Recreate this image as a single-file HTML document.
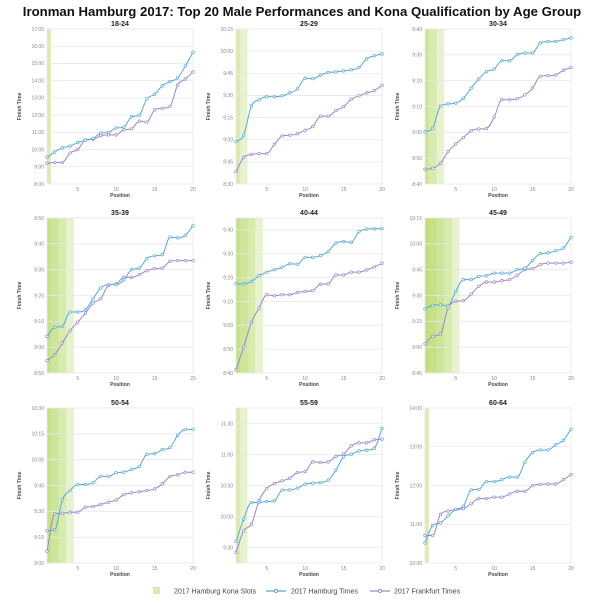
<!DOCTYPE html>
<html><head><meta charset="utf-8">
<style>
body{margin:0;background:#fff;width:600px;height:600px;overflow:hidden}
svg{font-family:"Liberation Sans",sans-serif}
</style></head>
<body>
<svg id="chart" width="600" height="600" viewBox="0 0 600 600">
<text x="302" y="16" text-anchor="middle" font-size="13.2" font-weight="bold" fill="#111">Ironman Hamburg 2017: Top 20 Male Performances and Kona Qualification by Age Group</text>
<g id="panels"></g>
<g>
<rect x="153" y="587" width="7" height="7" fill="#d9ebb0"/>
<text x="174" y="593.5" font-size="7" fill="#444">2017 Hamburg Kona Slots</text>
<line x1="266" y1="591" x2="286" y2="591" stroke="#5aa7d8" stroke-width="1.2"/>
<circle cx="276" cy="591" r="1.6" fill="#fff" stroke="#5aa7d8"/>
<text x="291" y="593.5" font-size="7" fill="#444">2017 Hamburg Times</text>
<line x1="370" y1="591" x2="390" y2="591" stroke="#9a86cf" stroke-width="1.2"/>
<circle cx="380" cy="591" r="1.6" fill="#fff" stroke="#9a86cf"/>
<text x="394" y="593.5" font-size="7" fill="#444">2017 Frankfurt Times</text>
</g>
</svg>
<script>
// finish times in minutes
const groups = ["18-24","25-29","30-34","35-39","40-44","45-49","50-54","55-59","60-64"];
const konaSlots = [1,2,3,4,4,5,4,2,1];
const yMin = [480,510,520,530,520,525,540,555,600];
const yMax = [1020,615,580,590,585,615,630,705,840];
const yTickStart = [480,510,520,530,520,525,540,570,600];
const yTickEnd = [1020,615,580,590,580,615,630,690,840];
const yStep = [60,15,10,10,10,15,15,30,60];
const positions = [1,2,3,4,5,6,7,8,9,10,11,12,13,14,15,16,17,18,19,20];
const xTicks = [5,10,15,20];
const hamburg = [
[573,591,606,612,624,633,639,657,660,675,678,714,720,777,792,822,837,849,891,939],
[538.7,543.2,562.9,567,569.2,569.2,569.7,571.7,574.4,581.6,581.4,583.7,585.5,585.9,586.6,587.3,588.9,594.8,596.8,598.1],
[540.2,541.6,550.1,551,551.3,553.2,557.1,560.7,563.5,564.5,567.7,567.7,570.1,570.7,570.7,574.6,575.1,575.2,575.9,576.5],
[544.2,547.7,548.1,553.6,553.6,554.5,558.8,562.9,564.2,564.2,566,570,570.6,574.3,575.4,575.8,582.6,582.3,583.3,587],
[557.4,557.4,558.4,560.8,562.3,563.3,564.3,565.8,565.6,568.5,568.5,569.3,571,574.5,575.1,574.8,579.3,580.3,580.5,580.6],
[562.3,564.2,564.6,564,572.4,579.2,579.2,581.1,581.5,583,583,583,585,585.9,590.4,594.3,594.7,596,597.6,603.7],
[558.8,559.2,576.7,582.1,585.6,585.6,586.6,590.3,590.3,592.4,592.8,594.3,596.1,603.1,603.5,605.8,607,614.1,617.6,617.6],
[575.8,597.4,613.5,613.5,614.5,615.2,625.5,625.8,627.4,631.3,632.3,632.9,635.2,644.8,657.7,660.3,663.5,664.2,666.1,685.2],
[631,658,662,673,683,688,713,714,726,726,729,733,733,756,771,775,775,783,790,807]
];
const frankfurt = [
[552,555,555,588,600,633,636,648,651,651,669,672,699,696,738,744,750,825,846,870],
[518.4,528,530,530.6,530.6,536.9,542.5,543,544,546.4,548.9,556,555.9,559.7,562.4,567.4,569.7,571.7,573.3,576.9],
[525.7,526.1,528,532.5,535.5,538,540.6,541.3,541.5,545.9,552.6,552.6,553,554.5,557.1,561.7,561.9,562.2,564,565.1],
[534.8,537.1,541.6,546.4,549.7,553.2,557.1,558.8,563.9,564.5,567,567,568.1,569.6,570.4,570.6,573.2,573.5,573.5,573.5],
[521.4,530.9,541.2,547.2,552.8,552.4,552.8,552.8,553.8,554.2,554.6,557.2,557.4,561.1,561.1,562.3,562.3,563.2,564.5,566],
[542,546.3,547.6,562.7,566.6,567,570.8,575.3,577.8,577.8,578.6,579.2,581.7,585,585.6,587.9,588.8,588.8,588.8,589.4],
[546.8,568.5,568.9,569.5,569.5,572.4,572.8,574,575.3,576.6,579.7,580.7,581.4,582.1,583,585.9,590.2,591.2,592.7,592.7],
[565.2,586.1,592.6,615.2,627.1,631.9,634.5,637.1,642.6,643.5,652.9,652.3,652.9,658.1,660.3,668.4,671.3,671.3,674.2,674.8],
[642.6,642.6,675,680.4,682.8,684,691.8,699.6,699.6,702,702,706.8,711,711,720,721.8,722.4,722.4,729,736.8]
];

const NS="http://www.w3.org/2000/svg";
const colX=[47,236,425], rowY=[29,218,408], PW=146, PH=155;
function mk(tag,attrs,parent){const e=document.createElementNS(NS,tag);for(const k in attrs)e.setAttribute(k,attrs[k]);parent.appendChild(e);return e;}
function fmt(m){const h=Math.floor(m/60),mm=Math.round(m-h*60);return h+":"+(mm<10?"0":"")+mm;}
function monotonePath(pts){
  const n=pts.length;if(n<2)return "";
  const d=[],m=[];
  for(let i=0;i<n-1;i++)d.push((pts[i+1][1]-pts[i][1])/(pts[i+1][0]-pts[i][0]));
  m[0]=d[0];m[n-1]=d[n-2];
  for(let i=1;i<n-1;i++){m[i]=(d[i-1]*d[i]<=0)?0:(d[i-1]+d[i])/2;}
  for(let i=0;i<n-1;i++){if(d[i]===0){m[i]=0;m[i+1]=0;continue;}const a=m[i]/d[i],b=m[i+1]/d[i],s=a*a+b*b;if(s>9){const t=3/Math.sqrt(s);m[i]=t*a*d[i];m[i+1]=t*b*d[i];}}
  let p="M"+pts[0][0].toFixed(2)+","+pts[0][1].toFixed(2);
  for(let i=0;i<n-1;i++){const h=(pts[i+1][0]-pts[i][0])/3;
    p+="C"+(pts[i][0]+h).toFixed(2)+","+(pts[i][1]+m[i]*h).toFixed(2)+" "+(pts[i+1][0]-h).toFixed(2)+","+(pts[i+1][1]-m[i+1]*h).toFixed(2)+" "+pts[i+1][0].toFixed(2)+","+pts[i+1][1].toFixed(2);}
  return p;
}
const root=document.getElementById('panels');
groups.forEach((g,gi)=>{
  const x0=colX[gi%3], y0=rowY[Math.floor(gi/3)];
  const xs=v=>x0+(v-1)/19*PW;
  const ys=v=>y0+PH-(v-yMin[gi])/(yMax[gi]-yMin[gi])*PH;
  const pg=mk('g',{},root);
  
  
  const t=mk('text',{x:x0+PW/2,y:y0-3,'text-anchor':'middle','font-size':'7','font-weight':'bold',fill:'#222'},pg);
  t.textContent=g;
  
  
  for(let k=1;k<=konaSlots[gi];k++){
    const r=mk('rect',{x:xs(1),y:y0,width:xs(Math.min(k+0.5,20))-xs(1),height:PH,fill:'#b5d96a','fill-opacity':k==1&&konaSlots[gi]==1?0.5:0.32},pg);
    
    
  }
  const fr=mk('rect',{x:x0,y:y0,width:PW,height:PH,fill:'none',stroke:'#e8e8e8','stroke-width':0.8},pg);
  
  
  for(let v=yTickStart[gi];v<=yTickEnd[gi]+0.01;v+=yStep[gi]){
    const y=ys(v);
    const gl=mk('line',{x1:x0,x2:x0+PW,y1:y,y2:y,stroke:'#e8e8e8','stroke-width':0.8},pg);
    
    
    const tl=mk('text',{x:x0-3,y:y+1.8,'text-anchor':'end','font-size':'5','fill':'#888'},pg);
    tl.textContent=fmt(v);
    
    
  }
  xTicks.forEach(v=>{
    const tl=mk('text',{x:xs(v),y:y0+PH+7,'text-anchor':'middle','font-size':'5','fill':'#888'},pg);
    tl.textContent=v;
    
    
  });
  const xt=mk('text',{x:x0+PW/2,y:y0+PH+13,'text-anchor':'middle','font-size':'5','font-weight':'bold',fill:'#444'},pg);
  xt.textContent='Position';
  
  
  const yt=mk('text',{x:0,y:0,'text-anchor':'middle','font-size':'5','font-weight':'bold',fill:'#444',transform:'translate('+(x0-26)+','+(y0+PH/2)+') rotate(-90)'},pg);
  yt.textContent='Finish Time';
  
  
  [[frankfurt[gi],'#9a86cf','frankfurt'],[hamburg[gi],'#5aa7d8','hamburg']].forEach(([vals,col,nm])=>{
    const pts=vals.map((v,i)=>[xs(positions[i]),ys(v)]);
    const path=mk('path',{d:monotonePath(pts),fill:'none',stroke:col,'stroke-width':1},pg);
    
    
    pts.forEach(p=>{
      const c=mk('circle',{cx:p[0],cy:p[1],r:1.3,fill:'#fff',stroke:col,'stroke-width':0.7},pg);
      
      
    });
  });
});
</script>
</body></html>
